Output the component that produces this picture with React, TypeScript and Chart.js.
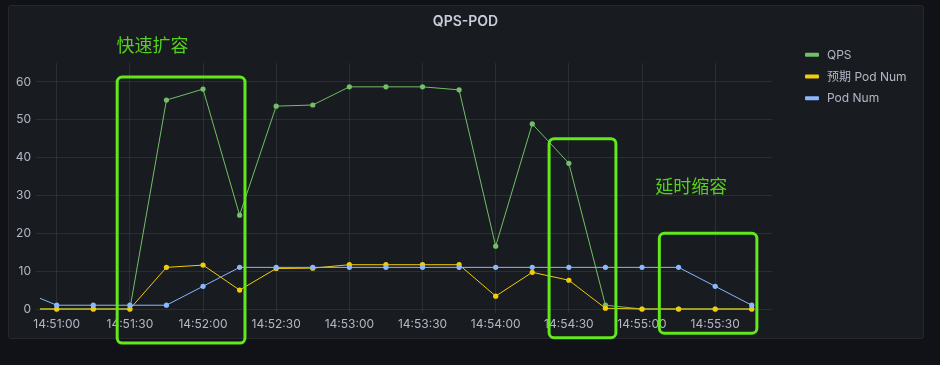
import React, { useEffect, useRef } from 'react';
import { Chart, registerables } from 'chart.js';

Chart.register(...registerables);

// ---- data ----
const TITLE = 'QPS-POD';
const times = [
  '14:50:45', '14:51:00', '14:51:15', '14:51:30', '14:51:45', '14:52:00', '14:52:15',
  '14:52:30', '14:52:45', '14:53:00', '14:53:15', '14:53:30', '14:53:45', '14:54:00',
  '14:54:15', '14:54:30', '14:54:45', '14:55:00', '14:55:15', '14:55:30', '14:55:45',
];
const qps = [0, 0, 0, 0, 55.2, 58.1, 24.8, 53.6, 53.9, 58.7, 58.7, 58.7, 57.9, 16.6, 48.9, 38.5, 1.0, 0, 0, 0, 0];
const expectedPods = [0, 0, 0, 0, 11.0, 11.6, 5.0, 10.7, 10.8, 11.7, 11.7, 11.7, 11.7, 3.4, 9.7, 7.6, 0.2, 0, 0, 0, 0];
const podNum = [5, 1, 1, 1, 1, 6, 11, 11, 11, 11, 11, 11, 11, 11, 11, 11, 11, 11, 11, 6, 1];
const seriesNames = ['QPS', '预期 Pod Num', 'Pod Num'];
const seriesColors = ['#73bf69', '#f2cc0c', '#8ab8ff'];
const xTickLabels = [
  '14:51:00', '14:51:30', '14:52:00', '14:52:30', '14:53:00',
  '14:53:30', '14:54:00', '14:54:30', '14:55:00', '14:55:30',
];
const yTicks = [0, 10, 20, 30, 40, 50, 60];
const xRange = ['14:50:53.15', '14:55:53.3'];
const yRange = [0, 65];

// hand-drawn highlight annotations (time, value)
const boxStarts = ['14:51:24.8', '14:54:21.9', '14:55:07.1'];
const boxEnds = ['14:52:17.2', '14:54:49.3', '14:55:47.1'];
const boxTops = [61.3, 45.0, 20.0];
const boxBottoms = [-9.0, -7.6, -6.4];
const noteTexts = ['快速扩容', '延时缩容'];
const noteTimes = ['14:51:24.5', '14:55:05.4'];
const noteValues = [69.8, 32.5];

// ---- helpers ----
const BASE = '14:51:00';
function toSec(t: string): number {
  const [h, m, s] = t.split(':');
  return Number(h) * 3600 + Number(m) * 60 + Number(s);
}
const rel = (t: string) => toSec(t) - toSec(BASE);
const fmt = (v: number) => {
  const total = Math.round(v + toSec(BASE));
  const h = Math.floor(total / 3600), m = Math.floor((total % 3600) / 60), s = total % 60;
  const p = (n: number) => String(n).padStart(2, '0');
  return `${p(h)}:${p(m)}:${p(s)}`;
};

const FONT = 'Inter, "Noto Sans CJK SC", sans-serif';
const TEXT = 'rgba(204, 204, 220, 0.87)';
const GRID = 'rgba(204, 204, 220, 0.10)';

const overlayPlugin = {
  id: 'overlay',
  afterDraw(chart: any) {
    const ctx = chart.ctx as CanvasRenderingContext2D;
    const xs = chart.scales.x;
    const ys = chart.scales.y;
    ctx.save();
    // title
    ctx.font = `600 14px ${FONT}`;
    ctx.fillStyle = '#ccccdc';
    ctx.textAlign = 'center';
    ctx.textBaseline = 'middle';
    ctx.fillText(TITLE, 465.5, 21.5);
    // legend
    ctx.textAlign = 'left';
    ctx.font = `12px ${FONT}`;
    seriesNames.forEach((name, i) => {
      const y = 54.7 + i * 21.8;
      ctx.fillStyle = seriesColors[i];
      ctx.beginPath();
      (ctx as any).roundRect(805, y - 2, 14, 4, 1);
      ctx.fill();
      ctx.fillStyle = TEXT;
      ctx.fillText(name, 827, y + 0.5);
    });
    // annotations
    ctx.strokeStyle = '#62e81c';
    ctx.lineWidth = 3;
    boxStarts.forEach((t, i) => {
      const x0 = xs.getPixelForValue(rel(t));
      const x1 = xs.getPixelForValue(rel(boxEnds[i]));
      const y0 = ys.getPixelForValue(boxTops[i]);
      const y1 = ys.getPixelForValue(boxBottoms[i]);
      ctx.beginPath();
      (ctx as any).roundRect(x0, y0, x1 - x0, y1 - y0, 5);
      ctx.stroke();
    });
    ctx.fillStyle = '#56d01e';
    ctx.font = `18px "Noto Sans CJK SC", sans-serif`;
    ctx.textBaseline = 'middle';
    noteTexts.forEach((txt, i) => {
      ctx.fillText(txt, xs.getPixelForValue(rel(noteTimes[i])), ys.getPixelForValue(noteValues[i]));
    });
    ctx.restore();
  },
};

export default function App() {
  const ref = useRef<HTMLCanvasElement | null>(null);

  useEffect(() => {
    if (!ref.current) return;
    const series = [qps, expectedPods, podNum];
    const chart = new Chart(ref.current, {
      type: 'line',
      data: {
        datasets: series.map((vals, i) => ({
          label: seriesNames[i],
          data: vals.map((v, j) => ({ x: rel(times[j]), y: v })),
          borderColor: seriesColors[i],
          backgroundColor: seriesColors[i],
          pointBackgroundColor: seriesColors[i],
          pointBorderWidth: 0,
          pointRadius: 2.6,
          borderWidth: 1,
          tension: 0,
          order: 3 - i,
          clip: { left: 0, top: 6, right: 0, bottom: 6 } as any,
        })),
      },
      options: {
        responsive: false,
        animation: false,
        events: [],
        layout: { padding: { left: 0, top: 63, right: 168, bottom: 26 } },
        plugins: { legend: { display: false }, tooltip: { enabled: false }, title: { display: false } },
        scales: {
          x: {
            type: 'linear',
            min: rel(xRange[0]),
            max: rel(xRange[1]),
            afterBuildTicks: (s: any) => {
              s.ticks = xTickLabels.map((l) => ({ value: rel(l) }));
            },
            afterFit: (s: any) => {
              s.height = 30;
            },
            border: { display: false },
            grid: { color: GRID, tickColor: GRID, tickLength: 4, drawTicks: true, lineWidth: 1 },
            ticks: {
              autoSkip: false,
              maxRotation: 0,
              padding: 4,
              color: TEXT,
              font: { family: FONT, size: 12 },
              callback: (v: any) => fmt(Number(v)),
            },
          },
          y: {
            type: 'linear',
            min: yRange[0],
            max: yRange[1],
            afterBuildTicks: (s: any) => {
              s.ticks = yTicks.map((v) => ({ value: v }));
            },
            afterFit: (s: any) => {
              s.width = 40;
            },
            border: { display: false },
            grid: { color: GRID, tickColor: GRID, tickLength: 4, drawTicks: true, lineWidth: 1 },
            ticks: {
              padding: 5,
              color: TEXT,
              font: { family: FONT, size: 12 },
              callback: (v: any) => String(v),
            },
          },
        },
      },
      plugins: [overlayPlugin],
    } as any);
    return () => chart.destroy();
  }, []);

  return (
    <div style={{ position: 'fixed', left: 0, top: 0, width: 940, height: 365, background: '#111217', overflow: 'hidden' }}>
      <div
        style={{
          position: 'absolute',
          left: 8,
          top: 5,
          width: 914,
          height: 332,
          background: '#181b1f',
          border: '1px solid #25272d',
          borderRadius: 3,
        }}
      />
      <canvas ref={ref} width={940} height={365} style={{ position: 'absolute', left: 0, top: 0, width: 940, height: 365 }} />
    </div>
  );
}
